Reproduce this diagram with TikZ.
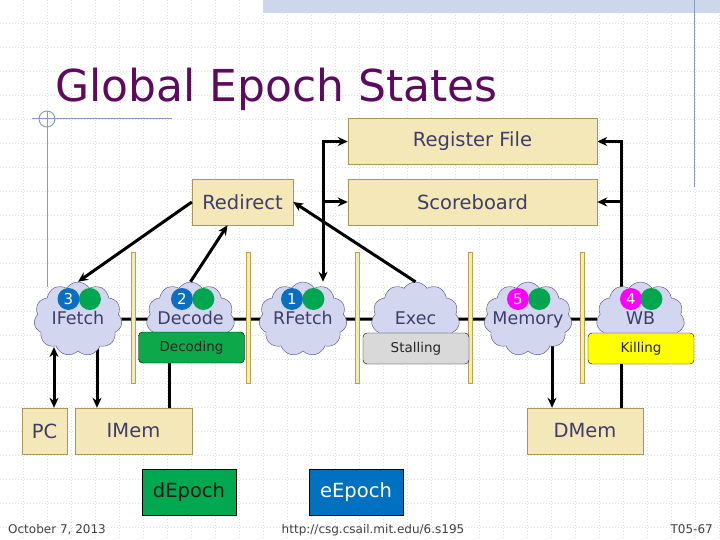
\documentclass[tikz,border=0pt]{standalone}
\usepackage{fontspec}
\setmainfont{DejaVu Sans}
\usetikzlibrary{shapes.symbols,arrows.meta,positioning,backgrounds}
\pgfdeclarelayer{grid}
\pgfsetlayers{grid,background,main}
\definecolor{boxfill}{HTML}{F4E8B8}
\definecolor{boxline}{HTML}{A89858}
\definecolor{inktext}{HTML}{3F3D6B}
\definecolor{cloudfill}{HTML}{D3D6EF}
\definecolor{cloudline}{HTML}{4C4C7C}
\definecolor{titlepurple}{HTML}{5E0A5E}
\definecolor{badgeblue}{HTML}{0B6FC1}
\definecolor{badgegreen}{HTML}{00A650}
\definecolor{badgepink}{HTML}{FF00FF}
\definecolor{decgreen}{HTML}{0DA84A}
\definecolor{stallgray}{HTML}{D9D9D9}
\definecolor{killyellow}{HTML}{FFFF00}
\definecolor{epochgreen}{HTML}{00A850}
\definecolor{epochblue}{HTML}{0070C0}
\definecolor{regfill}{HTML}{F6EBB0}
\definecolor{regline}{HTML}{C0A048}
\definecolor{tplblue}{HTML}{8A9BC5}
\definecolor{bandblue}{HTML}{CDD7EC}
\newcommand{\slidetitlefont}{\fontsize{44}{48}\selectfont}
\newcommand{\unitfont}{\fontsize{19.5}{22}\selectfont}
\newcommand{\stagefont}{\fontsize{17.5}{20}\selectfont}
\newcommand{\statfont}{\fontsize{13.5}{16}\selectfont}
\newcommand{\badgefont}{\fontsize{15}{17}\selectfont}
\newcommand{\footerfont}{\fontsize{12}{14}\selectfont}
\newcommand{\stagename}[1]{\makebox[0pt][c]{#1}}
\tikzset{
  unitbox/.style={draw=boxline,fill=boxfill,text=inktext,font=\unitfont,minimum height=46pt,inner sep=0pt},
  epochbox/.style={draw=black,fill=#1,font=\unitfont,minimum width=94pt,minimum height=46pt,inner sep=0pt},
  stagecloud/.style={cloud,cloud puffs=11,cloud puff arc=115,aspect=1.2,draw=cloudline,fill=cloudfill,text=inktext,font=\stagefont,text height=13pt,text depth=3pt,minimum width=88pt,minimum height=74pt,inner sep=0pt},
  badge/.style={circle,fill=#1,text=white,font=\badgefont,minimum size=22pt,inner sep=0pt},
  status/.style={draw=black,rounded corners=4pt,fill=#1,text=black!85,font=\statfont,minimum width=106pt,minimum height=31pt,inner sep=0pt},
  pipereg/.style={draw=regline,fill=regfill,line width=0.8pt},
  gridline/.style={draw=gray!25,line width=0.6pt,dash pattern=on 1pt off 2pt},
  tplline/.style={draw=tplblue,line width=1pt},
}
\begin{document}
\begin{tikzpicture}[x=1pt,y=-1pt,
    arr/.style={-{Stealth[length=10pt,width=9pt]},line width=3pt},
    dblarr/.style={{Stealth[length=10pt,width=9pt]}-{Stealth[length=10pt,width=9pt]},line width=3pt},
    bar/.style={line width=3pt},
  ]
  \useasboundingbox (0,0) rectangle (720,540);

  % slide template
  \begin{pgfonlayer}{grid}
    \foreach \g in {24,48,...,720} \draw[gridline] (\g-1,0) -- (\g-1,540);
    \foreach \g in {24,48,...,540} \draw[gridline] (0,\g-1) -- (720,\g-1);
    \fill[bandblue] (263,0) rectangle (720,13);
    \draw[tplline] (694,0) -- (694,187);
    \draw[tplline] (32,119) -- (172,119);
    \draw[tplline] (47,111) -- (47,287);
    \draw[tplline] (47,119) circle[radius=8];
  \end{pgfonlayer}

  \node[font=\slidetitlefont,text=titlepurple,anchor=base west,inner sep=0pt] (title) at (55,102) {Global Epoch States};

  % state elements
  \node[unitbox,minimum width=249pt] (regfile) at (472.5,141.5) {Register File};
  \node[unitbox,minimum width=249pt] (scoreboard) at (472.5,202) {Scoreboard};
  \node[unitbox,minimum width=101pt] (redirect) at (242.5,202) {Redirect};
  \node[unitbox,minimum width=45pt] (pc) at (44.5,431) {PC};
  \node[unitbox,minimum width=117pt] (imem) at (133.5,431) {IMem};
  \node[unitbox,minimum width=116pt] (dmem) at (585,431) {DMem};

  % pipeline registers
  \foreach \px in {133,248,357,470,582} \draw[pipereg] (\px-2,252) rectangle (\px+2,383);

  % stages
  \node[stagecloud] (ifetch) at (78,319) {\stagename{IFetch}};
  \node[stagecloud] (decode) at (190.5,319) {\stagename{Decode}};
  \node[stagecloud] (rfetch) at (303,319) {\stagename{RFetch}};
  \node[stagecloud] (exec) at (415.5,319) {\stagename{Exec}};
  \node[stagecloud] (memory) at (528,319) {\stagename{Memory}};
  \node[stagecloud] (wb) at (640.5,319) {\stagename{WB}};

  \node[badge=badgeblue] (ifetchnum) at (68.5,299) {3};
  \node[badge=badgegreen,right=-1pt of ifetchnum] (ifetchdot) {};
  \node[badge=badgeblue] (decodenum) at (182,299) {2};
  \node[badge=badgegreen,right=-1pt of decodenum] (decodedot) {};
  \node[badge=badgeblue] (rfetchnum) at (292,299) {1};
  \node[badge=badgegreen,right=-1pt of rfetchnum] (rfetchdot) {};
  \node[badge=badgepink] (memorynum) at (518,299) {5};
  \node[badge=badgegreen,right=-1pt of memorynum] (memorydot) {};
  \node[badge=badgepink] (wbnum) at (631,299) {4};
  \node[badge=badgegreen,right=-2pt of wbnum] (wbdot) {};

  % stage status
  \node[status=decgreen] (decoding) at (191.5,347.5) {Decoding};
  \node[status=stallgray] (stalling) at (416,348.5) {Stalling};
  \node[status=killyellow] (killing) at (641,348.5) {Killing};

  % epochs
  \node[epochbox=epochgreen,text=black!90] (depoch) at (189,492) {dEpoch};
  \node[epochbox=epochblue,text=white] (eepoch) at (356,492) {eEpoch};

  % connections
  \coordinate (busL) at (323,141);
  \coordinate (busR) at (621,141);
  \coordinate (pcin) at (54,347);
  \coordinate (imemin) at (97,343);
  \coordinate (dmemin) at (552,343);
  \begin{pgfonlayer}{background}
    \draw[bar] (ifetch) -- (wb);
    \draw[arr] (busR |- wb.center) |- (regfile.east);
    \draw[arr] (imemin |- ifetch.center) -- (imemin |- imem.north);
    \draw[arr] (dmemin |- memory.center) -- (dmemin |- dmem.north);
  \end{pgfonlayer}
  \draw[arr] (busR |- scoreboard.east) -- (scoreboard.east);
  \draw[dblarr] (regfile.west) -| (busL |- rfetch.north);
  \draw[arr] (busL |- scoreboard.west) -- (scoreboard.west);
  \draw[arr] (redirect.west) -- (ifetch.north);
  \draw[arr] (decode.north) -- ([xshift=-15pt]redirect.south);
  \draw[arr] (exec.north) -- (redirect.east);
  \draw[dblarr] (pcin) -- (pcin |- pc.north);
  \draw[bar] ([xshift=-22.5pt]decoding.south) -- ([xshift=-22.5pt]decoding.south |- imem.north);
  \draw[bar] (busR |- killing.south) -- (busR |- dmem.north);

  % footer
  \node[font=\footerfont,text=black!75,anchor=base west,inner sep=0pt] (date) at (8,533) {October 7, 2013};
  \node[font=\footerfont,text=black!75,anchor=base,inner sep=0pt] (url) at (373,533) {http://csg.csail.mit.edu/6.s195};
  \node[font=\footerfont,text=black!75,anchor=base east,inner sep=0pt] (slideno) at (713,533) {T05-67};
\end{tikzpicture}
\end{document}
